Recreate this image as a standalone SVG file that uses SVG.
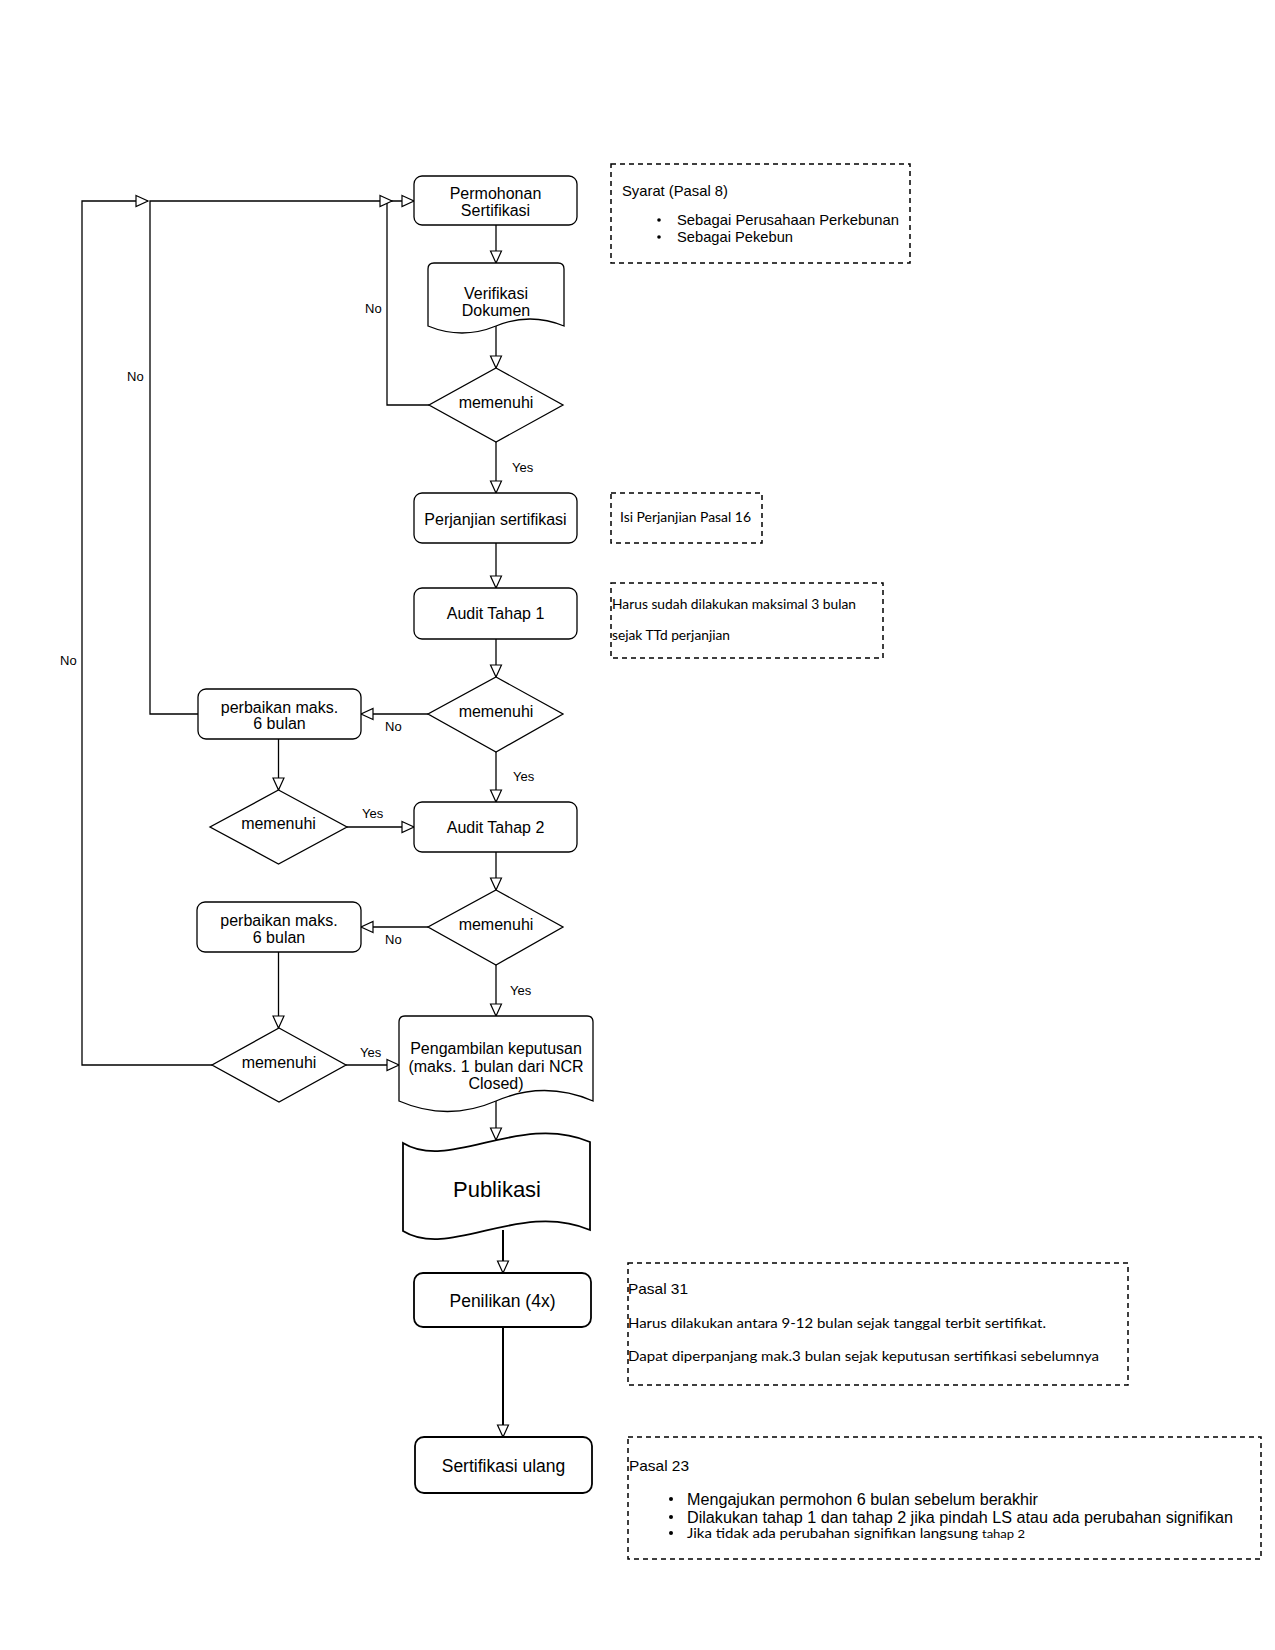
<svg xmlns="http://www.w3.org/2000/svg" width="1275" height="1650" viewBox="0 0 1275 1650">
<defs>
<marker id="arr" markerUnits="userSpaceOnUse" markerWidth="14" markerHeight="14" refX="12.5" refY="6" orient="auto" overflow="visible">
<path d="M0.5,0.5 L12.5,6 L0.5,11.5 Z" fill="#fff" stroke="#000" stroke-width="1.2"/>
</marker>
</defs>
<style>
.n{fill:#fff;stroke:#000;stroke-width:1.3}
.nb{fill:#fff;stroke:#000;stroke-width:1.8}
.c{fill:none;stroke:#000;stroke-width:1.3;marker-end:url(#arr)}
.cb{fill:none;stroke:#000;stroke-width:2;marker-end:url(#arr)}
.note{fill:none;stroke:#000;stroke-width:1.5;stroke-dasharray:5 4}
.t{font-family:"Liberation Sans",Arial,sans-serif;font-size:16px;fill:#000;text-anchor:middle}
.l{font-family:"Liberation Sans",Arial,sans-serif;font-size:13px;fill:#000}
.a{font-family:"Liberation Sans",Arial,sans-serif;fill:#000}
.k{font-family:Lato,"Liberation Sans",sans-serif;fill:#000}
</style>
<rect width="1275" height="1650" fill="#fff"/>

<g id="connectors">
<path class="c" d="M496,225 V263"/>
<path class="c" d="M496,326 V368"/>
<path class="c" d="M429,405 H387 V201 H414"/>
<path class="c" d="M496,442 V493"/>
<path class="c" d="M496,543 V588"/>
<path class="c" d="M496,639 V677"/>
<path class="c" d="M428,714 H361"/>
<path class="c" d="M496,752 V802"/>
<path class="c" d="M198,714 H150 V201 H392"/>
<path class="c" d="M278.5,739 V790"/>
<path class="c" d="M347,827 H414"/>
<path class="c" d="M496,852 V890"/>
<path class="c" d="M428,927 H361"/>
<path class="c" d="M496,965 V1016"/>
<path class="c" d="M278.5,952 V1028"/>
<path class="c" d="M212,1065 H82 V201 H148"/>
<path class="c" d="M346,1065 H399"/>
<path class="c" d="M496,1101 V1140"/>
<path class="cb" d="M503,1230 V1273"/>
<path class="cb" d="M503,1327 V1437"/>
<text class="l" x="365" y="313">No</text>
<text class="l" x="127" y="381">No</text>
<text class="l" x="60" y="665">No</text>
<text class="l" x="512" y="472">Yes</text>
<text class="l" x="385" y="731">No</text>
<text class="l" x="513" y="781">Yes</text>
<text class="l" x="362" y="818">Yes</text>
<text class="l" x="385" y="944">No</text>
<text class="l" x="510" y="995">Yes</text>
<text class="l" x="360" y="1057">Yes</text>
</g>

<g id="permohonan">
<rect class="n" x="414" y="176" width="163" height="49" rx="8"/>
<text class="t" x="495.5" y="198.5">Permohonan</text>
<text class="t" x="495.5" y="216">Sertifikasi</text>
</g>

<g id="verifikasi">
<path class="n" d="M428,326 V269 Q428,263 434,263 H558 Q564,263 564,269 V326 Q530,312 496,326 Q462,340 428,326 Z"/>
<text class="t" x="496" y="298.5">Verifikasi</text>
<text class="t" x="496" y="315.5">Dokumen</text>
</g>

<g id="cek1">
<polygon class="n" points="496,368 563,405 496,442 429,405"/>
<text class="t" x="496" y="408">memenuhi</text>
</g>

<g id="perjanjian">
<rect class="n" x="414" y="493" width="163" height="50" rx="8"/>
<text class="t" x="495.5" y="524.5">Perjanjian sertifikasi</text>
</g>

<g id="audit1">
<rect class="n" x="414" y="588" width="163" height="51" rx="8"/>
<text class="t" x="495.5" y="618.5">Audit Tahap 1</text>
</g>

<g id="cek2">
<polygon class="n" points="496,677 563,714 496,752 428,714"/>
<text class="t" x="496" y="717">memenuhi</text>
</g>

<g id="perbaikan1">
<rect class="n" x="198" y="689" width="163" height="50" rx="8"/>
<text class="t" x="279.5" y="712.5">perbaikan maks.</text>
<text class="t" x="279.5" y="728.5">6 bulan</text>
</g>

<g id="cek3">
<polygon class="n" points="278.5,790 347,827 278.5,864 210,827"/>
<text class="t" x="278.5" y="829">memenuhi</text>
</g>

<g id="audit2">
<rect class="n" x="414" y="802" width="163" height="50" rx="8"/>
<text class="t" x="495.5" y="832.5">Audit Tahap 2</text>
</g>

<g id="cek4">
<polygon class="n" points="496,890 563,927 496,965 428,927"/>
<text class="t" x="496" y="930">memenuhi</text>
</g>

<g id="perbaikan2">
<rect class="n" x="197" y="902" width="164" height="50" rx="8"/>
<text class="t" x="279" y="925.5">perbaikan maks.</text>
<text class="t" x="279" y="942.5">6 bulan</text>
</g>

<g id="cek5">
<polygon class="n" points="279,1028 346,1065 279,1102 212,1065"/>
<text class="t" x="279" y="1068">memenuhi</text>
</g>

<g id="pengambilan">
<path class="n" d="M399,1101 V1022 Q399,1016 405,1016 H587 Q593,1016 593,1022 V1101 Q544.5,1080 496,1101 Q447.5,1122 399,1101 Z"/>
<text class="t" x="496" y="1053.5">Pengambilan keputusan</text>
<text class="t" x="496" y="1071.5">(maks. 1 bulan dari NCR</text>
<text class="t" x="496" y="1088.5">Closed)</text>
</g>

<g id="publikasi">
<path class="nb" d="M403,1143 C450,1172 520,1112 590,1142 V1230 C520,1200 450,1260 403,1231 Z"/>
<text class="t" x="497" y="1197" style="font-size:22px">Publikasi</text>
</g>

<g id="penilikan">
<rect class="nb" x="414" y="1273" width="177" height="54" rx="9"/>
<text class="t" x="502.5" y="1306.5" style="font-size:17.5px">Penilikan (4x)</text>
</g>

<g id="sertifikasi-ulang">
<rect class="nb" x="415" y="1437" width="177" height="56" rx="9"/>
<text class="t" x="503.5" y="1471.5" style="font-size:17.5px">Sertifikasi ulang</text>
</g>

<g id="note-syarat">
<rect class="note" x="611" y="164" width="299" height="99"/>
<text class="a" x="622" y="196" font-size="14.5" textLength="106" lengthAdjust="spacingAndGlyphs">Syarat (Pasal 8)</text>
<circle cx="659" cy="220" r="1.8"/>
<circle cx="659" cy="237" r="1.8"/>
<text class="a" x="677" y="225" font-size="14.5" textLength="222" lengthAdjust="spacingAndGlyphs">Sebagai Perusahaan Perkebunan</text>
<text class="a" x="677" y="242" font-size="14.5" textLength="116" lengthAdjust="spacingAndGlyphs">Sebagai Pekebun</text>
</g>

<g id="note-isi">
<rect class="note" x="611" y="493" width="151" height="50"/>
<text class="k" x="620" y="522" font-size="12.5" textLength="131" lengthAdjust="spacingAndGlyphs">Isi Perjanjian Pasal 16</text>
</g>

<g id="note-harus">
<rect class="note" x="611" y="583" width="272" height="75"/>
<text class="k" x="612" y="609" font-size="12.5" textLength="244" lengthAdjust="spacingAndGlyphs">Harus sudah dilakukan maksimal 3 bulan</text>
<text class="k" x="612" y="640" font-size="12.5" textLength="118" lengthAdjust="spacingAndGlyphs">sejak TTd perjanjian</text>
</g>

<g id="note-pasal31">
<rect class="note" x="628" y="1263" width="500" height="122"/>
<text class="a" x="628" y="1294" font-size="15" textLength="60" lengthAdjust="spacingAndGlyphs">Pasal 31</text>
<text class="k" x="628" y="1328" font-size="14" textLength="418" lengthAdjust="spacingAndGlyphs">Harus dilakukan antara 9-12 bulan sejak tanggal terbit sertifikat.</text>
<text class="k" x="628" y="1361" font-size="14" textLength="471" lengthAdjust="spacingAndGlyphs">Dapat diperpanjang mak.3 bulan sejak keputusan sertifikasi sebelumnya</text>
</g>

<g id="note-pasal23">
<rect class="note" x="628" y="1437" width="633" height="122"/>
<text class="a" x="629" y="1471" font-size="15" textLength="60" lengthAdjust="spacingAndGlyphs">Pasal 23</text>
<circle cx="671" cy="1499" r="2"/>
<circle cx="671" cy="1517" r="2"/>
<circle cx="671" cy="1533" r="2"/>
<text class="a" x="687" y="1504.5" font-size="16" textLength="351" lengthAdjust="spacingAndGlyphs">Mengajukan permohon 6 bulan sebelum berakhir</text>
<text class="a" x="687" y="1522.5" font-size="16" textLength="546" lengthAdjust="spacingAndGlyphs">Dilakukan tahap 1 dan tahap 2 jika pindah LS atau ada perubahan signifikan</text>
<text class="k" x="687" y="1538" font-size="13.5" textLength="291" lengthAdjust="spacingAndGlyphs">Jika tidak ada perubahan signifikan langsung</text>
<text class="k" x="982" y="1538" font-size="11" textLength="43" lengthAdjust="spacingAndGlyphs">tahap 2</text>
</g>
</svg>
